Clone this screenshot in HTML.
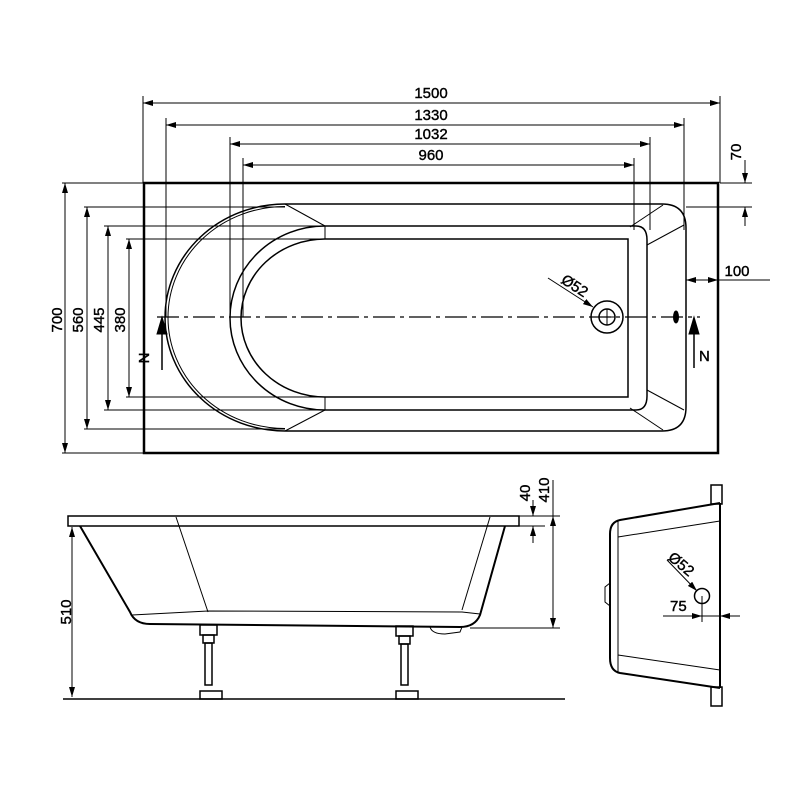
<!DOCTYPE html>
<html><head><meta charset="utf-8"><style>
html,body{margin:0;padding:0;background:#fff;}
svg{display:block;}
text{font-family:"Liberation Sans",sans-serif;font-size:15px;fill:#000;stroke:#000;stroke-width:0.4;}
</style></head><body>
<svg width="800" height="800" viewBox="0 0 800 800" xmlns="http://www.w3.org/2000/svg">
<defs>
<marker id="a" viewBox="0 0 10 6" refX="10" refY="3" markerWidth="10" markerHeight="6" orient="auto-start-reverse" markerUnits="userSpaceOnUse"><path d="M0,0 L10,3 L0,6 z" fill="#000"/></marker>
</defs>
<g stroke="#000" fill="none" stroke-width="1">
<line x1="143" y1="103" x2="720" y2="103" marker-start="url(#a)" marker-end="url(#a)"/>
<line x1="166" y1="125" x2="684" y2="125" marker-start="url(#a)" marker-end="url(#a)"/>
<line x1="230" y1="144" x2="650" y2="144" marker-start="url(#a)" marker-end="url(#a)"/>
<line x1="243" y1="165" x2="634" y2="165" marker-start="url(#a)" marker-end="url(#a)"/>
<line x1="143" y1="96" x2="143" y2="183"/><line x1="720" y1="96" x2="720" y2="183"/>
<line x1="166" y1="118" x2="166" y2="317"/><line x1="684" y1="118" x2="684" y2="230"/>
<line x1="230" y1="137" x2="230" y2="317"/><line x1="650" y1="137" x2="650" y2="230"/>
<line x1="243" y1="158" x2="243" y2="317"/><line x1="634" y1="158" x2="634" y2="230"/>
<line x1="720" y1="183" x2="752" y2="183"/><line x1="686" y1="207" x2="752" y2="207"/>
<line x1="745" y1="160" x2="745" y2="183" marker-end="url(#a)"/>
<line x1="745" y1="226" x2="745" y2="207" marker-end="url(#a)"/>
<line x1="686" y1="280" x2="770" y2="280"/>
<line x1="686" y1="280" x2="704" y2="280" marker-start="url(#a)"/>
<line x1="700" y1="280" x2="718" y2="280" marker-end="url(#a)"/>
<line x1="62" y1="183" x2="143" y2="183"/><line x1="62" y1="453" x2="143" y2="453"/>
<line x1="84" y1="207" x2="285" y2="207"/><line x1="84" y1="429" x2="285" y2="429"/>
<line x1="104" y1="226" x2="325" y2="226"/><line x1="104" y1="410" x2="325" y2="410"/>
<line x1="126" y1="239" x2="325" y2="239"/><line x1="126" y1="397" x2="325" y2="397"/>
<line x1="65" y1="183" x2="65" y2="453" marker-start="url(#a)" marker-end="url(#a)"/>
<line x1="87" y1="207" x2="87" y2="429" marker-start="url(#a)" marker-end="url(#a)"/>
<line x1="108" y1="226" x2="108" y2="410" marker-start="url(#a)" marker-end="url(#a)"/>
<line x1="129" y1="239" x2="129" y2="397" marker-start="url(#a)" marker-end="url(#a)"/>
<rect x="144" y="183" width="574" height="270" stroke-width="2.5"/>
<path d="M285,204 L662,204 Q686,204 686,228 L686,407 Q686,431 662,431 L285,431 A120,113.5 0 0 1 285,204 Z" stroke-width="1.5"/>
<path d="M285,206.5 A117,111 0 0 0 285,428.5"/>
<line x1="285" y1="204" x2="325" y2="226"/><line x1="285" y1="431" x2="325" y2="410"/>
<line x1="663" y1="205" x2="630" y2="227"/><line x1="684" y1="225" x2="647" y2="245"/>
<line x1="663" y1="430" x2="630" y2="408"/><line x1="684" y1="410" x2="647" y2="390"/>
<path d="M325,226 L636,226 Q647,226 647,240 L647,396 Q647,410 636,410 L325,410 A95,92 0 0 1 325,226 Z" stroke-width="1.5"/>
<path d="M325,239 L628,239 L628,397 L325,397 A84,79 0 0 1 325,239 Z" stroke-width="1.5"/>
<line x1="325" y1="226" x2="325" y2="239"/><line x1="325" y1="397" x2="325" y2="410"/>
<line x1="157" y1="317" x2="700" y2="317" stroke-dasharray="22,5,4,5" stroke-width="1.3"/>
<circle cx="607" cy="317" r="16" stroke-width="1.5"/>
<circle cx="607" cy="317" r="8" stroke-width="1.5"/>
<line x1="599" y1="317" x2="615" y2="317"/><line x1="607" y1="309" x2="607" y2="325"/>
<line x1="548" y1="278" x2="593" y2="307" marker-end="url(#a)"/>
<ellipse cx="676" cy="317" rx="2.5" ry="6" fill="#000"/>
<line x1="162" y1="370" x2="162" y2="330" stroke-width="1.5"/>
<polygon points="162,317 157,334 167,334" fill="#000"/>
<line x1="694" y1="368" x2="694" y2="330" stroke-width="1.5"/>
<polygon points="694,317 689,334 699,334" fill="#000"/>
<rect x="68" y="516" width="451" height="10" stroke-width="1.5"/>
<path d="M80,526 L130,612 Q135,624 150,624 L460,627 Q475,627 480,615 L505,526" stroke-width="2"/>
<line x1="176" y1="517" x2="208" y2="612"/>
<line x1="490" y1="517" x2="462" y2="610"/>
<path d="M132,615 L208,611 L462,612 L480,614"/>
<path d="M430,627 Q432,634 445,634 L460,632 L462,627"/>
<g stroke-width="1.5">
<rect x="200" y="625" width="17" height="10"/><rect x="203" y="635" width="11" height="8"/>
<rect x="205" y="643" width="7" height="42"/><rect x="200" y="691" width="22" height="8"/>
<rect x="396" y="626" width="17" height="10"/><rect x="399" y="636" width="11" height="8"/>
<rect x="401" y="644" width="7" height="41"/><rect x="396" y="691" width="22" height="8"/>
</g>
<line x1="63" y1="699" x2="565" y2="699" stroke-width="1.5"/>
<line x1="72" y1="527" x2="72" y2="697" marker-start="url(#a)" marker-end="url(#a)"/>
<line x1="519" y1="516" x2="560" y2="516"/><line x1="519" y1="526" x2="545" y2="526"/>
<line x1="470" y1="628" x2="560" y2="628"/>
<line x1="553" y1="516" x2="553" y2="628" marker-start="url(#a)" marker-end="url(#a)"/>
<line x1="553" y1="480" x2="553" y2="516"/>
<line x1="533" y1="500" x2="533" y2="516" marker-end="url(#a)"/>
<line x1="533" y1="543" x2="533" y2="526" marker-end="url(#a)"/>
<rect x="711" y="485" width="11" height="19" stroke-width="1.5"/>
<rect x="711" y="687" width="11" height="19" stroke-width="1.5"/>
<line x1="720" y1="503" x2="720" y2="688" stroke-width="2"/>
<path d="M720,503 L620,520 Q610,522 610,534 L610,658 Q610,671 620,673 L720,688" stroke-width="2"/>
<line x1="618" y1="521" x2="618" y2="672"/>
<line x1="618" y1="537" x2="720" y2="521"/>
<line x1="618" y1="655" x2="720" y2="670"/>
<path d="M610,583 L605,587 L605,602 L610,606"/>
<circle cx="702" cy="596" r="7.5" stroke-width="1.5"/>
<line x1="667" y1="560" x2="697" y2="591" marker-end="url(#a)"/>
<line x1="702" y1="596" x2="702" y2="622"/>
<line x1="663" y1="616" x2="740" y2="616"/>
<line x1="690" y1="616" x2="702" y2="616" marker-end="url(#a)"/>
<line x1="732" y1="616" x2="720" y2="616" marker-end="url(#a)"/>
</g>
<text x="431" y="98" text-anchor="middle">1500</text>
<text x="431" y="120" text-anchor="middle">1330</text>
<text x="431" y="139" text-anchor="middle">1032</text>
<text x="431" y="160" text-anchor="middle">960</text>
<text transform="translate(741,152) rotate(-90)" text-anchor="middle">70</text>
<text x="737" y="276" text-anchor="middle">100</text>
<text transform="translate(62,320) rotate(-90)" text-anchor="middle">700</text>
<text transform="translate(83,320) rotate(-90)" text-anchor="middle">560</text>
<text transform="translate(104,320) rotate(-90)" text-anchor="middle">445</text>
<text transform="translate(125,320) rotate(-90)" text-anchor="middle">380</text>
<text transform="translate(572,290) rotate(33)" text-anchor="middle">Ø52</text>
<text transform="translate(149,358) rotate(-90)" text-anchor="middle">N</text>
<text x="699" y="361">N</text>
<text transform="translate(71,612) rotate(-90)" text-anchor="middle">510</text>
<text transform="translate(530,493) rotate(-90)" text-anchor="middle">40</text>
<text transform="translate(549,490) rotate(-90)" text-anchor="middle">410</text>
<text transform="translate(678,568) rotate(40)" text-anchor="middle">Ø52</text>
<text x="670" y="611">75</text>
</svg>
</body></html>
